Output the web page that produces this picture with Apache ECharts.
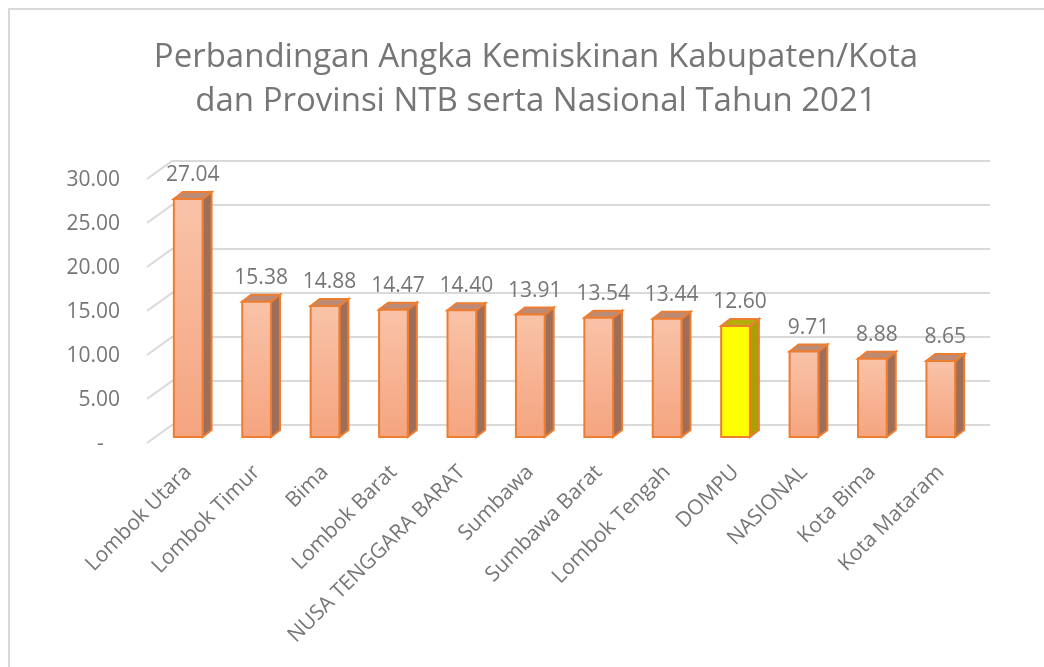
<!DOCTYPE html>
<html>
<head>
<meta charset="utf-8">
<script src="https://cdn.jsdelivr.net/npm/echarts@6/dist/echarts.min.js"></script>
<style>
  html, body { margin: 0; padding: 0; background: #fff; }
  #chart { width: 1044px; height: 667px; }
</style>
</head>
<body>
<div id="chart"></div>
<script>
const categories = ['Lombok Utara', 'Lombok Timur', 'Bima', 'Lombok Barat', 'NUSA TENGGARA BARAT',
  'Sumbawa', 'Sumbawa Barat', 'Lombok Tengah', 'DOMPU', 'NASIONAL', 'Kota Bima', 'Kota Mataram'];
const values = [27.04, 15.38, 14.88, 14.47, 14.40, 13.91, 13.54, 13.44, 12.60, 9.71, 8.88, 8.65];
const yTicks = [0, 5, 10, 15, 20, 25, 30];
const highlighted = 'DOMPU';

const FONT = 'Open Sans';
const TEXT = '#767676';

const chart = echarts.init(document.getElementById('chart'), null, { renderer: 'canvas' });

// 3d box look, like the excel original
const DX = 9, DY = -7;

function renderBox(params, api) {
  const idx = api.value(0);
  const v = api.value(1);
  const top = api.coord([idx, v]);
  const base = api.coord([idx, 0]);
  const w = api.size([1, 0])[0] * 0.42;
  const x0 = top[0] - w / 2, x1 = top[0] + w / 2;
  const yT = top[1], yB = base[1];
  const yellow = categories[idx] === highlighted;

  const front = yellow ? '#ffff00' : new echarts.graphic.LinearGradient(0, 0, 0, 1, [
    { offset: 0, color: '#f9c3a8' },
    { offset: 1, color: '#f5a47f' }
  ]);
  const side = yellow ? '#a9a100' : '#9e6e58';
  const lid = yellow ? '#b5ad0c' : '#bb8b76';
  const edge = '#ed7d31';

  return {
    type: 'group',
    children: [
      {
        type: 'polygon',
        shape: { points: [[x1, yT], [x1 + DX, yT + DY], [x1 + DX, yB + DY], [x1, yB]] },
        style: { fill: side, stroke: edge, lineWidth: 2 }
      },
      {
        type: 'polygon',
        shape: { points: [[x0, yT], [x0 + DX, yT + DY], [x1 + DX, yT + DY], [x1, yT]] },
        style: { fill: lid, stroke: edge, lineWidth: 2 }
      },
      {
        type: 'rect',
        shape: { x: x0, y: yT, width: w, height: yB - yT },
        style: { fill: front, stroke: edge, lineWidth: 2 }
      },
      {
        type: 'text',
        x: top[0] + DX / 2,
        y: yT - 24,
        style: {
          text: v.toFixed(2),
          fill: TEXT,
          font: '21px "' + FONT + '"',
          align: 'center',
          verticalAlign: 'middle'
        }
      }
    ]
  };
}

// back-wall gridlines with the little diagonal on the left side
function renderGrid(params, api) {
  const cs = params.coordSys;
  const y = api.coord([0, api.value(1)])[1];
  return {
    type: 'polyline',
    shape: { points: [[cs.x - 7, y + 6], [cs.x + 18, y - 12], [cs.x + cs.width + 15, y - 12]] },
    style: { fill: null, stroke: '#d9d9d9', lineWidth: 2 },
    silent: true
  };
}

chart.setOption({
  backgroundColor: '#fff',
  animation: false,
  title: {
    text: 'Perbandingan Angka Kemiskinan Kabupaten/Kota\ndan Provinsi NTB serta Nasional Tahun 2021',
    left: 531,
    textAlign: 'center',
    top: 31,
    textStyle: {
      fontFamily: FONT,
      fontSize: 33,
      fontWeight: 'normal',
      color: TEXT,
      lineHeight: 44
    }
  },
  graphic: [{
    type: 'rect',
    shape: { x: 9, y: 9, width: 1060, height: 700 },
    style: { fill: null, stroke: '#d9d9d9', lineWidth: 2 },
    silent: true,
    z: -10
  }],
  grid: { left: 154, right: 69, top: 173, bottom: 230 },
  xAxis: {
    type: 'category',
    data: categories,
    axisLine: { show: false },
    axisTick: { show: false },
    axisLabel: {
      interval: 0,
      rotate: 45,
      margin: 32,
      color: TEXT,
      fontFamily: FONT,
      fontSize: 21
    }
  },
  yAxis: {
    type: 'value',
    min: 0,
    max: 30,
    interval: 5,
    axisLine: { show: false },
    axisTick: { show: false },
    splitLine: { show: false },
    axisLabel: {
      margin: 34,
      color: TEXT,
      fontFamily: FONT,
      fontSize: 21,
      verticalAlign: 'top',
      lineHeight: 14,
      formatter: v => v === 0 ? '-   ' : v.toFixed(2)
    }
  },
  series: [
    {
      type: 'custom',
      renderItem: renderGrid,
      data: yTicks.map(t => [0, t]),
      encode: { x: 0, y: 1 },
      z: 1
    },
    {
      type: 'custom',
      renderItem: renderBox,
      data: values.map((v, i) => [i, v]),
      encode: { x: 0, y: 1 },
      z: 2
    }
  ]
});
</script>
</body>
</html>
